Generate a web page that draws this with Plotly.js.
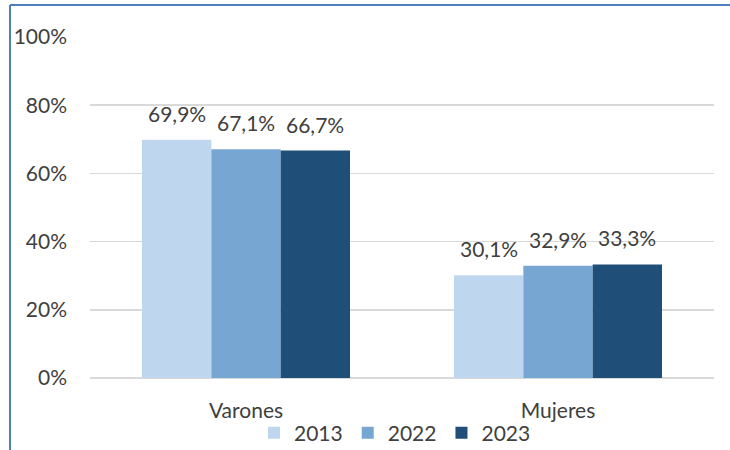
<!DOCTYPE html>
<html>
<head>
<meta charset="utf-8">
<script src="https://cdn.plot.ly/plotly-3.0.1.min.js"></script>
<style>html,body{margin:0;padding:0;background:#fff;}#chart{width:730px;height:450px;}</style>
</head>
<body>
<div id="chart"></div>
<script>
const categories = ["Varones", "Mujeres"];
const years = ["2013", "2022", "2023"];
const values2013 = [69.9, 30.1];
const values2022 = [67.1, 32.9];
const values2023 = [66.7, 33.3];
const labels2013 = ["69,9%", "30,1%"];
const labels2022 = ["67,1%", "32,9%"];
const labels2023 = ["66,7%", "33,3%"];
const colors = ["#BFD7EE", "#78A6D2", "#1F4E79"];

const series = [values2013, values2022, values2023];
const labels = [labels2013, labels2022, labels2023];

const bargap = 1/3;
const barW = (1 - bargap) / 3;
const FS = 21;

const traces = series.map((vals, k) => ({
  type: "bar",
  name: years[k],
  x: categories,
  y: vals,
  marker: {color: colors[k], line: {width: 0}},
  hoverinfo: "none"
}));

const annotations = [];
series.forEach((vals, k) => {
  vals.forEach((v, i) => {
    annotations.push({
      x: i + (k - 1) * barW,
      y: v,
      xref: "x", yref: "y",
      text: labels[k][i],
      showarrow: false,
      yanchor: "bottom",
      yshift: 12,
      font: {family: "Lato, sans-serif", size: FS, color: "#404040"}
    });
  });
});

const layout = {
  width: 730, height: 450,
  margin: {l: 90, r: 16, t: 37, b: 72},
  paper_bgcolor: "#fff", plot_bgcolor: "#fff",
  barmode: "group",
  bargap: bargap,
  bargroupgap: 0,
  font: {family: "Lato, sans-serif", size: FS, color: "#404040"},
  xaxis: {
    type: "category",
    showgrid: false, zeroline: false, showline: false,
    ticks: "", tickfont: {size: FS, color: "#404040"},
    ticklabelstandoff: 18
  },
  yaxis: {
    range: [0, 100],
    tickvals: [0, 20, 40, 60, 80, 100],
    ticktext: ["0%", "20%", "40%", "60%", "80%", "100%"],
    showgrid: true, gridcolor: "#D9D9D9", gridwidth: 1.5,
    zeroline: true, zerolinecolor: "#D9D9D9", zerolinewidth: 1.5,
    showline: false, ticks: "", ticklabelstandoff: 22,
    tickfont: {size: FS, color: "#404040"}
  },
  showlegend: true,
  legend: {
    orientation: "h", x: 0.5 - 7/624, xanchor: "center",
    yref: "container", y: 17/450, yanchor: "middle",
    bgcolor: "rgba(0,0,0,0)",
    font: {size: FS, color: "#404040"},
    itemwidth: 30, tracegroupgap: 0, traceorder: "normal",
    itemclick: false
  },
  annotations: annotations,
  shapes: [
    {type: "line", xref: "paper", yref: "paper",
     x0: -80/624, x1: 1.05, y0: 1 + 32/341, y1: 1 + 32/341,
     line: {color: "#4F7FBD", width: 2}},
    {type: "line", xref: "paper", yref: "paper",
     x0: -80/624, x1: -80/624, y0: 1 + 32/341, y1: -80/341,
     line: {color: "#4F7FBD", width: 2}}
  ]
};

Plotly.newPlot("chart", traces, layout, {displayModeBar: false, staticPlot: true});
</script>
</body>
</html>
